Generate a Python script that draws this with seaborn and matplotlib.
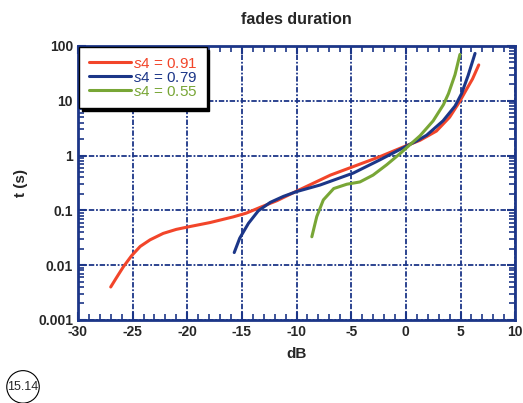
import pandas as pd
import matplotlib.pyplot as plt
import numpy as np
import seaborn as sns
from matplotlib.ticker import LogLocator, MultipleLocator, FixedLocator, NullFormatter

# Values (dB, t in seconds)
db_091 = [-27.0, -26.5, -25.85, -25.1, -24.3, -23.4, -22.2, -21.0, -19.9, -17.9, -15.8, -14.6, -13.3, -11.8,
          -10.0, -6.9, -4.8, -2.4, 0.0, 1.3, 2.8, 4.0, 4.9, 5.5, 6.1, 6.67]
t_091 = [0.0040, 0.0058, 0.0093, 0.0148, 0.022, 0.029, 0.038, 0.045, 0.050, 0.060, 0.076, 0.089, 0.114, 0.150,
         0.224, 0.44, 0.63, 0.95, 1.5, 1.9, 2.8, 5.0, 9.5, 15.5, 25.0, 45.0]

db_079 = [-15.7, -15.2, -14.4, -13.5, -12.4, -11.2, -10.0, -7.85, -4.8, -2.4, -0.2, 1.0, 1.9, 3.4, 4.5, 5.1, 5.7, 6.33]
t_079 = [0.017, 0.031, 0.058, 0.098, 0.14, 0.18, 0.22, 0.29, 0.48, 0.83, 1.4, 1.85, 2.35, 4.3, 8.0, 13.5, 29.0, 73.0]

db_055 = [-8.6, -8.15, -7.55, -6.6, -5.4, -4.2, -3.0, -1.75, -0.5, 0.7, 1.3, 2.5, 3.44, 3.9, 4.5, 4.95]
t_055 = [0.033, 0.077, 0.155, 0.25, 0.30, 0.33, 0.44, 0.68, 1.1, 1.8, 2.3, 4.3, 8.5, 13.5, 30.0, 70.0]

labels = [r"$\mathit{s4}$ = 0.91", r"$\mathit{s4}$ = 0.79", r"$\mathit{s4}$ = 0.55"]
colors = ["#f2452a", "#1c3688", "#78a636"]

frames = []
for x, y, lab in zip([db_091, db_079, db_055], [t_091, t_079, t_055], labels):
    frames.append(pd.DataFrame({"dB": x, "t": y, "series": lab}))
df = pd.concat(frames, ignore_index=True)

sns.set_style("ticks")
plt.rcParams['font.family'] = ['Liberation Sans', 'DejaVu Sans']
plt.rcParams['axes.unicode_minus'] = False
plt.rcParams['mathtext.fontset'] = 'custom'
plt.rcParams['mathtext.rm'] = 'Liberation Sans'
plt.rcParams['mathtext.it'] = 'Liberation Sans:italic'

navy = "#1c3688"
fig = plt.figure(figsize=(5.23, 4.03), dpi=100)
ax = fig.add_axes([0.149, 0.206, 0.836, 0.680])

sns.lineplot(data=df, x="dB", y="t", hue="series", palette=colors, linewidth=2.2,
             sort=False, estimator=None, ax=ax)

ax.set_yscale("log")
ax.set_xlim(-30, 10)
ax.set_ylim(0.001, 100)

ax.xaxis.set_major_locator(MultipleLocator(5))
ax.xaxis.set_minor_locator(MultipleLocator(1))
ax.yaxis.set_major_locator(FixedLocator([0.001, 0.01, 0.1, 1, 10, 100]))
ax.yaxis.set_minor_locator(LogLocator(base=10, subs=np.arange(2, 10)))
ax.yaxis.set_minor_formatter(NullFormatter())
ax.set_yticklabels(["0.001", "0.01", "0.1", "1", "10", "100"])

ax.tick_params(which="both", direction="in", top=True, right=True, color=navy)
ax.tick_params(which="major", length=6, width=1.5)
ax.tick_params(which="minor", length=4, width=1.2)
ax.tick_params(labelsize=10)
for lab in ax.get_xticklabels() + ax.get_yticklabels():
    lab.set_fontweight("bold")

ax.grid(True, which="major", color=navy, linestyle=(0, (3, 1, 1, 1)), linewidth=1.3)
for s in ax.spines.values():
    s.set_color(navy)
    s.set_linewidth(2)

ax.set_xlabel("dB", fontsize=11, fontweight="bold", labelpad=6)
ax.set_ylabel("t (s)", fontsize=11, fontweight="bold", labelpad=7)
ax.set_title("fades duration", fontsize=11.5, fontweight="bold", pad=16)

leg = ax.legend(loc="upper left", borderaxespad=0.1, frameon=True, shadow={'color': 'black', 'alpha': 1},
                fancybox=False, fontsize=11, handlelength=2.8, handletextpad=0.1,
                labelspacing=0.0, borderpad=0.6)
leg.get_frame().set_edgecolor("black")
leg.get_frame().set_linewidth(1.0)
for txt, c in zip(leg.get_texts(), colors):
    txt.set_color(c)

fig.text(0.044, 0.04, "15.14", fontsize=9, ha="center", va="center",
         bbox=dict(boxstyle="circle,pad=0.05", fc="white", ec="black", lw=0.8))

fig.savefig("out.png", dpi=100)
